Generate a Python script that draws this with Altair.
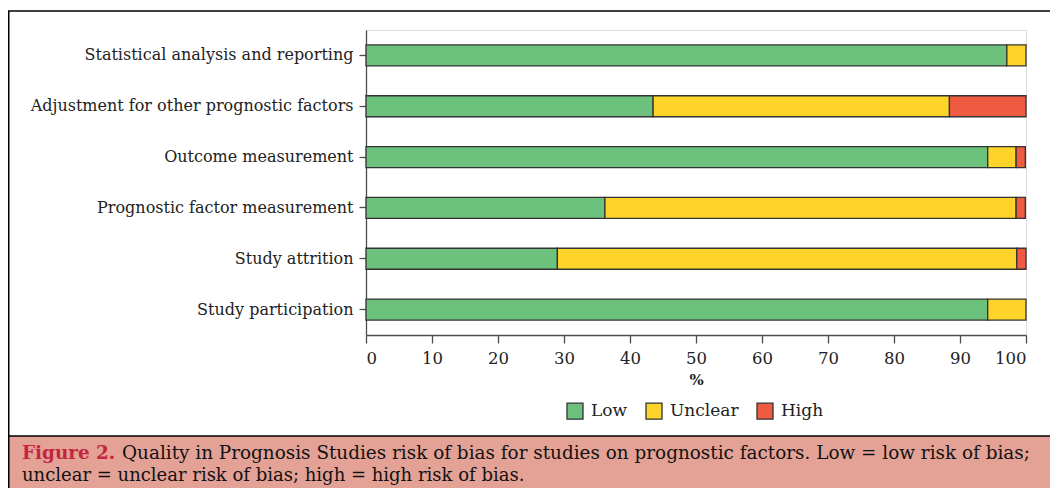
import altair as alt
import pandas as pd

# ---- data ----
categories = [
    "Statistical analysis and reporting",
    "Adjustment for other prognostic factors",
    "Outcome measurement",
    "Prognostic factor measurement",
    "Study attrition",
    "Study participation",
]
low = [97.1, 43.5, 94.2, 36.2, 29.0, 94.2]
unclear = [2.9, 44.9, 4.3, 62.3, 69.6, 5.8]
high = [0.0, 11.6, 1.4, 1.4, 1.4, 0.0]
levels = ["Low", "Unclear", "High"]
colors = ["#6cc27c", "#ffd42a", "#ef5b40"]
x_ticks = [0, 10, 20, 30, 40, 50, 60, 70, 80, 90, 100]
x_title = "%"
caption_label = "Figure 2."
caption_line1 = ("Quality in Prognosis Studies risk of bias for studies on prognostic "
                 "factors. Low = low risk of bias;")
caption_line2 = "unclear = unclear risk of bias; high = high risk of bias."

FONT = "DejaVu Serif"
AXC = "#4d4d4d"
TXT = "#222222"

rows = []
for i, c in enumerate(categories):
    for k, (lvl, vals) in enumerate(zip(levels, [low, unclear, high])):
        if vals[i] > 0:
            rows.append({"item": c, "level": lvl, "ord": k, "pct": vals[i]})
df = pd.DataFrame(rows)

bars = alt.Chart(df).mark_bar(stroke="#333333", strokeWidth=1.3).encode(
    y=alt.Y("item:N", sort=categories,
            scale=alt.Scale(paddingInner=0.587, paddingOuter=0.2935),
            axis=alt.Axis(title=None, domainColor=AXC, domainWidth=1.3,
                          tickColor=AXC, tickWidth=1.3, tickSize=7,
                          labelFont=FONT, labelFontSize=16, labelColor=TXT,
                          labelPadding=6, labelLimit=0)),
    x=alt.X("pct:Q", stack="zero",
            scale=alt.Scale(domain=[0, 100], nice=False, zero=True),
            axis=alt.Axis(values=x_ticks, title=x_title, grid=False,
                          domainColor=AXC, domainWidth=1.3,
                          tickColor=AXC, tickWidth=1.3, tickSize=8,
                          labelFont=FONT, labelFontSize=16.5, labelColor=TXT,
                          labelPadding=7, titleFont=FONT, titleFontSize=15,
                          titleFontWeight="bold", titleColor=TXT, titlePadding=6)),
    color=alt.Color("level:N", sort=levels,
                    scale=alt.Scale(domain=levels, range=colors),
                    legend=alt.Legend(title=None, orient="none", legendX=200, legendY=372,
                                      direction="horizontal", symbolType="square",
                                      symbolSize=256, symbolStrokeColor="#333333",
                                      symbolStrokeWidth=1.3, labelFont=FONT,
                                      labelFontSize=17, labelColor=TXT, labelOffset=7,
                                      columnPadding=15)),
    order=alt.Order("ord:Q", sort="ascending"),
)

one = pd.DataFrame({"k": [0]})

frame = alt.Chart(one).mark_rect(filled=False, stroke="#000000", strokeWidth=1.5).encode(
    x=alt.value(-357.25), x2=alt.value(720), y=alt.value(-19), y2=alt.value(520))

cap_bg = alt.Chart(one).mark_rect(fill="#e4a195", stroke="#000000", strokeWidth=1.5).encode(
    x=alt.value(-357.25), x2=alt.value(720), y=alt.value(406), y2=alt.value(520))

t_label = alt.Chart(pd.DataFrame({"t": [caption_label]})).mark_text(
    align="left", baseline="middle", font=FONT, fontSize=18.4, fontWeight="bold",
    color="#c4263f").encode(x=alt.value(-344), y=alt.value(423), text="t:N")

t_line1 = alt.Chart(pd.DataFrame({"t": [caption_line1]})).mark_text(
    align="left", baseline="middle", font=FONT, fontSize=18.4,
    color="#111111").encode(x=alt.value(-244), y=alt.value(423), text="t:N")

t_line2 = alt.Chart(pd.DataFrame({"t": [caption_line2]})).mark_text(
    align="left", baseline="middle", font=FONT, fontSize=18,
    color="#111111").encode(x=alt.value(-344), y=alt.value(446), text="t:N")

chart = alt.layer(frame, cap_bg, bars, t_label, t_line1, t_line2).properties(
    width=660, height=305,
    padding={"left": 358, "top": 22, "right": 24, "bottom": 153},
    autosize=alt.AutoSizeParams(type="none"),
).configure_view(stroke=None).configure(background="white")

chart.save("out.html", embed_options={"renderer": "svg", "actions": False})
